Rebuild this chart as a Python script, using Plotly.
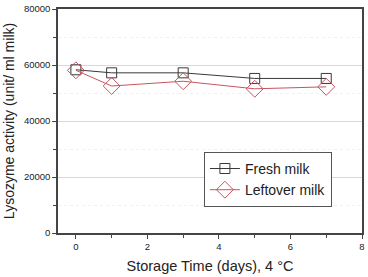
import plotly.graph_objects as go

days = [0, 1, 3, 5, 7]
fresh = [58300, 57200, 57200, 55200, 55200]
leftover = [58100, 52500, 54200, 51500, 52200]
xticks = [0, 2, 4, 6, 8]
yticks = [0, 20000, 40000, 60000, 80000]
yticklabels = ["0", "20000", "40000", "60000", "80000"]

fig = go.Figure()
fig.add_trace(go.Scatter(x=days, y=fresh, mode="lines+markers", name="Fresh milk",
                         line=dict(color="#3a3a3a", width=1),
                         marker=dict(symbol="square-open", size=10, color="#3a3a3a", line=dict(width=1))))
fig.add_trace(go.Scatter(x=days, y=leftover, mode="lines+markers", name="Leftover milk",
                         line=dict(color="#c9545e", width=1),
                         marker=dict(symbol="diamond-open", size=13, color="#c9545e", line=dict(width=1))))

fig.update_layout(
    width=368, height=277,
    margin=dict(l=58, r=3, t=7, b=44),
    paper_bgcolor="white", plot_bgcolor="white",
    font=dict(family="Liberation Sans, Arial", color="#222"),
    legend=dict(x=0.48, y=0.362, xanchor="left", yanchor="top",
                bordercolor="#555", borderwidth=1, bgcolor="white",
                font=dict(size=14), tracegroupgap=0, itemwidth=30),
    showlegend=True,
)
fig.update_xaxes(range=[-0.5, 8], tickvals=xticks, ticks="outside", ticklen=4,
                 tickfont=dict(size=9.5), showgrid=False, zeroline=False,
                 showline=True, linecolor="#444", linewidth=1.5, mirror=True,
                 minor=dict(dtick=1, ticks="outside", ticklen=3, tickcolor="#444"),
                 title=dict(text="Storage Time (days), 4 °C", font=dict(size=14.5), standoff=10))
fig.update_yaxes(range=[0, 80000], tickvals=yticks, ticktext=yticklabels, ticks="outside", ticklen=4,
                 tickfont=dict(size=9.5), showgrid=True, gridcolor="#d8d8d8", gridwidth=1,
                 zeroline=False, showline=True, linecolor="#444", linewidth=1.5, mirror=True,
                 minor=dict(dtick=10000, ticks="outside", ticklen=3, tickcolor="#444",
                            showgrid=True, gridcolor="#f0f0f0", griddash="dot"),
                 title=dict(text="Lysozyme activity (unit/ ml milk)", font=dict(size=14), standoff=6))

fig.write_html("out.html")
